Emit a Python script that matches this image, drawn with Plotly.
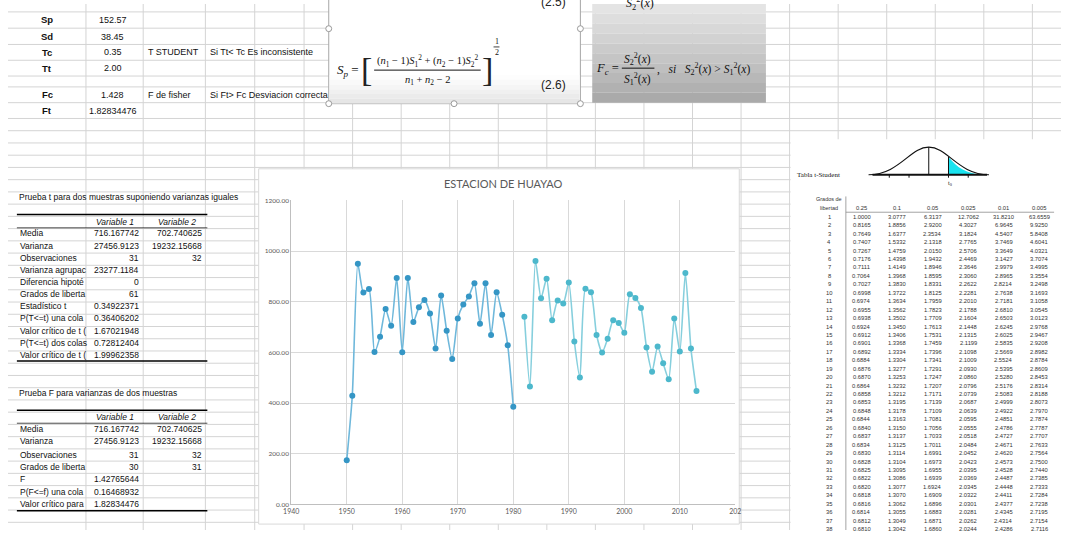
import plotly.graph_objects as go

W, H = 1067, 533

# ---------------- chart data: annual precipitation, Huayao station ----------------
years_1 = list(range(1950, 1981))
pp_1 = [174, 429, 950, 836, 850, 601, 662, 771, 705, 894, 600, 894, 720, 778, 807,
        753, 615, 825, 685, 574, 734, 789, 821, 873, 713, 873, 669, 837, 749, 628, 385]
years_2 = list(range(1982, 2014))
pp_2 = [741, 465, 961, 814, 891, 727, 805, 793, 876, 643, 501, 851, 837, 669, 599, 654,
        727, 716, 677, 829, 815, 775, 619, 523, 623, 557, 494, 734, 603, 913, 615, 447]

x_ticks = [1940, 1950, 1960, 1970, 1980, 1990, 2000, 2010, 2020]
x_tick_text = ["1940", "1950", "1960", "1970", "1980", "1990", "2000", "2010", "202"]
chart_title = "ESTACION DE HUAYAO"

# ---------------- worksheet cells ----------------
summary_labels = ["Sp", "Sd", "Tc", "Tt", "Fc", "Ft"]
summary_values = ["152.57", "38.45", "0.35", "2.00", "1.428", "1.82834476"]
summary_rows_y = [16, 33, 49, 65, 92, 108]
summary_notes = {"Tc": ("T STUDENT", "Si Tt< Tc Es inconsistente"),
                 "Fc": ("F de fisher", "Si Ft> Fc Desviacion correcta")}

ttest_title = "Prueba t para dos muestras suponiendo varianzas iguales"
ttest_labels = ["Media", "Varianza", "Observaciones", "Varianza agrupac", "Diferencia hipoté",
                "Grados de liberta", "Estadístico t", "P(T<=t) una cola", "Valor crítico de t (",
                "P(T<=t) dos colas", "Valor crítico de t ("]
ttest_var1 = ["716.167742", "27456.9123", "31", "23277.1184", "0", "61", "0.34922371",
              "0.36406202", "1.67021948", "0.72812404", "1.99962358"]
ttest_var2 = ["702.740625", "19232.15668", "32", "", "", "", "", "", "", "", ""]

ftest_title = "Prueba F para varianzas de dos muestras"
ftest_labels = ["Media", "Varianza", "Observaciones", "Grados de liberta", "F",
                "P(F<=f) una cola", "Valor crítico para"]
ftest_var1 = ["716.167742", "27456.9123", "31", "30", "1.42765644", "0.16468932", "1.82834476"]
ftest_var2 = ["702.740625", "19232.15668", "32", "31", "", "", ""]

# ---------------- t-Student table ----------------
t_probs = ["0.25", "0.1", "0.05", "0.025", "0.01", "0.005"]
t_rows = [
    ["1.0000", "3.0777", "6.3137", "12.7062", "31.8210", "63.6559"],
    ["0.8165", "1.8856", "2.9200", "4.3027", "6.9645", "9.9250"],
    ["0.7649", "1.6377", "2.3534", "3.1824", "4.5407", "5.8408"],
    ["0.7407", "1.5332", "2.1318", "2.7765", "3.7469", "4.6041"],
    ["0.7267", "1.4759", "2.0150", "2.5706", "3.3649", "4.0321"],
    ["0.7176", "1.4398", "1.9432", "2.4469", "3.1427", "3.7074"],
    ["0.7111", "1.4149", "1.8946", "2.3646", "2.9979", "3.4995"],
    ["0.7064", "1.3968", "1.8595", "2.3060", "2.8965", "3.3554"],
    ["0.7027", "1.3830", "1.8331", "2.2622", "2.8214", "3.2498"],
    ["0.6998", "1.3722", "1.8125", "2.2281", "2.7638", "3.1693"],
    ["0.6974", "1.3634", "1.7959", "2.2010", "2.7181", "3.1058"],
    ["0.6955", "1.3562", "1.7823", "2.1788", "2.6810", "3.0545"],
    ["0.6938", "1.3502", "1.7709", "2.1604", "2.6503", "3.0123"],
    ["0.6924", "1.3450", "1.7613", "2.1448", "2.6245", "2.9768"],
    ["0.6912", "1.3406", "1.7531", "2.1315", "2.6025", "2.9467"],
    ["0.6901", "1.3368", "1.7459", "2.1199", "2.5835", "2.9208"],
    ["0.6892", "1.3334", "1.7396", "2.1098", "2.5669", "2.8982"],
    ["0.6884", "1.3304", "1.7341", "2.1009", "2.5524", "2.8784"],
    ["0.6876", "1.3277", "1.7291", "2.0930", "2.5395", "2.8609"],
    ["0.6870", "1.3253", "1.7247", "2.0860", "2.5280", "2.8453"],
    ["0.6864", "1.3232", "1.7207", "2.0796", "2.5176", "2.8314"],
    ["0.6858", "1.3212", "1.7171", "2.0739", "2.5083", "2.8188"],
    ["0.6853", "1.3195", "1.7139", "2.0687", "2.4999", "2.8073"],
    ["0.6848", "1.3178", "1.7109", "2.0639", "2.4922", "2.7970"],
    ["0.6844", "1.3163", "1.7081", "2.0595", "2.4851", "2.7874"],
    ["0.6840", "1.3150", "1.7056", "2.0555", "2.4786", "2.7787"],
    ["0.6837", "1.3137", "1.7033", "2.0518", "2.4727", "2.7707"],
    ["0.6834", "1.3125", "1.7011", "2.0484", "2.4671", "2.7633"],
    ["0.6830", "1.3114", "1.6991", "2.0452", "2.4620", "2.7564"],
    ["0.6828", "1.3104", "1.6973", "2.0423", "2.4573", "2.7500"],
    ["0.6825", "1.3095", "1.6955", "2.0395", "2.4528", "2.7440"],
    ["0.6822", "1.3086", "1.6939", "2.0369", "2.4487", "2.7385"],
    ["0.6820", "1.3077", "1.6924", "2.0345", "2.4448", "2.7333"],
    ["0.6818", "1.3070", "1.6909", "2.0322", "2.4411", "2.7284"],
    ["0.6816", "1.3062", "1.6896", "2.0301", "2.4377", "2.7238"],
    ["0.6814", "1.3055", "1.6883", "2.0281", "2.4345", "2.7195"],
    ["0.6812", "1.3049", "1.6871", "2.0262", "2.4314", "2.7154"],
    ["0.6810", "1.3042", "1.6860", "2.0244", "2.4286", "2.7116"],
]

SHEET_FONT = "Liberation Sans"
SERIF = "Liberation Serif"

shapes, anns = [], []


def px(x):
    return x / W


def py(y):
    return 1 - y / H


def line(x0, y0, x1, y1, color="#d4d4d4", width=1, layer="below"):
    shapes.append(dict(type="line", xref="paper", yref="paper", x0=px(x0), y0=py(y0),
                       x1=px(x1), y1=py(y1), line=dict(color=color, width=width), layer=layer))


def rect(x0, y0, x1, y1, fill, border=None, bw=1, layer="below"):
    shapes.append(dict(type="rect", xref="paper", yref="paper", x0=px(x0), y0=py(y0),
                       x1=px(x1), y1=py(y1), fillcolor=fill,
                       line=dict(color=border or fill, width=bw if border else 0), layer=layer))


def txt(x, y, s, size=8.5, anchor="left", color="#111111", family=SHEET_FONT):
    anns.append(dict(x=px(x), y=py(y), xref="paper", yref="paper", text=s, showarrow=False,
                     xanchor=anchor, yanchor="middle",
                     font=dict(size=size, color=color, family=family)))


# ---------------- worksheet grid ----------------
col_lines = [79, 137, 200, 250] + [300 + 49.2 * k for k in range(16)]
row_lines = [8, 24.5, 41, 57, 73, 84, 100, 116] + [116 + 12.4 * k for k in range(1, 35)]
for cx in col_lines:
    line(cx, 0, cx, H)
for ry in row_lines:
    line(0, ry, W, ry)

# white chart area and the t-table picture on top of the grid
rect(254, 167, 741, 527, "#ffffff", border="#d9d9d9", bw=1)
rect(793, 137, W, H, "#ffffff")

# formula picture 1 (white, soft grey fade at the bottom)
rect(325, -5, 580, 101, "#ffffff", border="#a6a6a6", bw=1)
fade = ["#fdfdfd", "#f9f9f9", "#f5f5f5", "#f0f0f0", "#ebebeb", "#e6e6e6"]
for i, c in enumerate(fade):
    y0 = 72 + i * 4.8
    rect(326, y0, 579, y0 + 4.8, c)
for hx, hy in [(325, 25), (580, 25), (325, 101), (452, 101), (580, 101)]:
    shapes.append(dict(type="circle", xref="paper", yref="paper", x0=px(hx - 3), x1=px(hx + 3),
                       y0=py(hy + 3), y1=py(hy - 3), fillcolor="#ffffff",
                       line=dict(color="#9a9a9a", width=1), layer="above"))

# formula picture 2 (grey gradient)
grey = ["#e4e4e4", "#dedede", "#d8d8d8", "#d2d2d2", "#cbcbcb", "#c5c5c5",
        "#bfbfbf", "#b8b8b8", "#b1b1b1", "#aaaaaa"]
for i, c in enumerate(grey):
    y0 = i * 10
    rect(592, y0, 768, y0 + 10, c)

# ---------------- summary block (top left) ----------------
for lab, val, yy in zip(summary_labels, summary_values, summary_rows_y):
    txt(40, yy, "<b>" + lab + "</b>", size=9.5, anchor="center")
    txt(106, yy, val, size=9, anchor="center")
    if lab in summary_notes:
        a, b = summary_notes[lab]
        txt(140, yy, a, size=9)
        txt(203, yy, b, size=9)

# ---------------- t-test table ----------------
txt(9, 196, ttest_title, size=8.5)
line(9, 213.3, 202, 213.3, color="#000000", width=1.6, layer="above")
line(9, 226.8, 202, 226.8, color="#000000", width=0.7, layer="above")
txt(108, 220.5, "<i>Variable 1</i>", size=8.5, anchor="center")
txt(171, 220.5, "<i>Variable 2</i>", size=8.5, anchor="center")
for i, (lab, v1, v2) in enumerate(zip(ttest_labels, ttest_var1, ttest_var2)):
    yy = 232.5 + 12.3 * i
    txt(10, yy, lab, size=8.5)
    txt(135, yy, v1, size=8.5, anchor="right")
    if v2:
        txt(199, yy, v2, size=8.5, anchor="right")
line(9, 361.7, 202, 361.7, color="#000000", width=1.6, layer="above")

# ---------------- F-test table ----------------
txt(9, 394, ftest_title, size=8.5)
line(9, 411.7, 202, 411.7, color="#000000", width=1.6, layer="above")
line(9, 424.8, 202, 424.8, color="#000000", width=0.7, layer="above")
txt(108, 418.5, "<i>Variable 1</i>", size=8.5, anchor="center")
txt(171, 418.5, "<i>Variable 2</i>", size=8.5, anchor="center")
f_rows_y = [430.7, 443, 456.5, 469, 481.5, 494, 506.5]
for lab, v1, v2, yy in zip(ftest_labels, ftest_var1, ftest_var2, f_rows_y):
    txt(10, yy, lab, size=8.5)
    txt(135, yy, v1, size=8.5, anchor="right")
    if v2:
        txt(199, yy, v2, size=8.5, anchor="right")
line(9, 513.5, 202, 513.5, color="#000000", width=1.6, layer="above")

# ---------------- formula 1: pooled standard deviation ----------------
txt(553, -2, "(2.5)", size=12, anchor="center", color="#222222")
txt(331, 67, "<i>S</i><sub><i>p</i></sub> =", size=13, family=SERIF)
txt(363, 66, "[", size=34, anchor="center", family=SERIF, color="#222222")
txt(486, 66, "]", size=34, anchor="center", family=SERIF, color="#222222")
txt(425, 58, "(<i>n</i><sub>1</sub> − 1)<i>S</i><sub>1</sub><sup>2</sup> + "
             "(<i>n</i><sub>2</sub> − 1)<i>S</i><sub>2</sub><sup>2</sup>",
    size=10.5, anchor="center", family=SERIF)
line(371, 67, 479, 67, color="#111111", width=1, layer="above")
txt(425, 78, "<i>n</i><sub>1</sub> + <i>n</i><sub>2</sub> − 2", size=10.5, anchor="center", family=SERIF)
txt(495, 38, "1", size=8, anchor="center", family=SERIF)
line(492, 43.5, 498, 43.5, color="#111111", width=0.8, layer="above")
txt(495, 49, "2", size=8, anchor="center", family=SERIF)
txt(553, 82, "(2.6)", size=12, anchor="center", color="#222222")

# ---------------- formula 2: F statistic ----------------
txt(640, -1, "<i>S</i><sub>2</sub><sup>2</sup>(<i>x</i>)", size=12, anchor="center", family=SERIF)
txt(594, 66, "<i>F</i><sub><i>c</i></sub> =", size=12.5, family=SERIF)
txt(638, 56, "<i>S</i><sub>2</sub><sup>2</sup>(<i>x</i>)", size=11.5, anchor="center", family=SERIF)
line(622, 65, 655, 65, color="#111111", width=1, layer="above")
txt(638, 76, "<i>S</i><sub>1</sub><sup>2</sup>(<i>x</i>)", size=11.5, anchor="center", family=SERIF)
txt(656, 66, ",&nbsp;&nbsp;&nbsp;<i>si</i>&nbsp;&nbsp;&nbsp;<i>S</i><sub>2</sub><sup>2</sup>(<i>x</i>) &gt; "
             "<i>S</i><sub>1</sub><sup>2</sup>(<i>x</i>)", size=11.5, family=SERIF)

# ---------------- t-Student picture ----------------
txt(797, 173, "Tabla t-Student", size=7, family=SERIF)
shapes.append(dict(type="path", xref="paper", yref="paper", layer="above",
                   path="M {},{} L {},{} C {},{} {},{} {},{} Z".format(
                       px(953), py(173), px(953), py(155),
                       px(962), py(166), px(971), py(172), px(988), py(173)),
                   fillcolor="#19e3ef", line=dict(width=0)))
shapes.append(dict(type="path", xref="paper", yref="paper", layer="above",
                   path="M {},{} C {},{} {},{} {},{} C {},{} {},{} {},{}".format(
                       px(872), py(173), px(903), py(173), px(914), py(145), px(933), py(145),
                       px(952), py(145), px(963), py(173), px(994), py(173)),
                   line=dict(color="#111111", width=1.2)))
line(876, 173, 992, 173, color="#111111", width=1.8, layer="above")
line(933, 145, 933, 173, color="#111111", width=1, layer="above")
line(953, 155, 953, 173, color="#111111", width=1, layer="above")
for tx in [893, 913, 953, 973]:
    line(tx, 173, tx, 176, color="#111111", width=1, layer="above")
txt(955, 182, "t<sub>0</sub>", size=6, anchor="center", family=SERIF)

txt(832, 198, "Grados de", size=5.5, anchor="center", color="#333333")
txt(832, 206.5, "libertad", size=5.5, anchor="center", color="#333333")
t_cols_x = [865 + 36 * k for k in range(6)]
for p, cx in zip(t_probs, t_cols_x):
    txt(cx, 207, p, size=5.8, anchor="center", color="#333333")
line(849, 195, 849, H, color="#8c8c8c", width=0.8, layer="above")
line(849, 211, 1060, 211, color="#8c8c8c", width=0.8, layer="above")
for r, row in enumerate(t_rows):
    yy = 215.7 + 8.55 * r
    txt(832, yy, str(r + 1), size=5.8, anchor="center", color="#333333")
    for v, cx in zip(row, t_cols_x):
        txt(cx, yy, v, size=5.8, anchor="center", color="#333333")

# ---------------- chart ----------------
txt(502, 182, chart_title, size=11, anchor="center", color="#595959", family="Lato")

fig = go.Figure()
fig.add_trace(go.Scatter(
    x=years_1, y=pp_1, mode="lines+markers", line=dict(color="#6fb8db", width=1.6, shape="spline", smoothing=0.6),
    marker=dict(color="#3596c5", size=6), showlegend=False, hoverinfo="x+y"))
fig.add_trace(go.Scatter(
    x=years_2, y=pp_2, mode="lines+markers", line=dict(color="#86cfdd", width=1.6, shape="spline", smoothing=0.6),
    marker=dict(color="#4db8cc", size=6), showlegend=False, hoverinfo="x+y"))

fig.update_layout(
    width=W, height=H, margin=dict(l=0, r=0, t=0, b=0),
    paper_bgcolor="#ffffff", plot_bgcolor="rgba(0,0,0,0)",
    shapes=shapes, annotations=anns,
    xaxis=dict(domain=[px(287), px(737)], range=[1940, 2020], tickvals=x_ticks, ticktext=x_tick_text,
               showgrid=True, gridcolor="#d9d9d9", gridwidth=1, zeroline=False,
               showline=True, linecolor="#bfbfbf", ticks="",
               tickfont=dict(size=7, color="#595959", family="Lato")),
    yaxis=dict(domain=[py(507), py(199)], range=[0, 1200], dtick=200, tickformat=".2f",
               showgrid=True, gridcolor="#d9d9d9", gridwidth=1, zeroline=False,
               showline=True, linecolor="#bfbfbf", ticks="",
               tickfont=dict(size=6.5, color="#595959", family="Lato")),
)

fig.write_html("out.html")
